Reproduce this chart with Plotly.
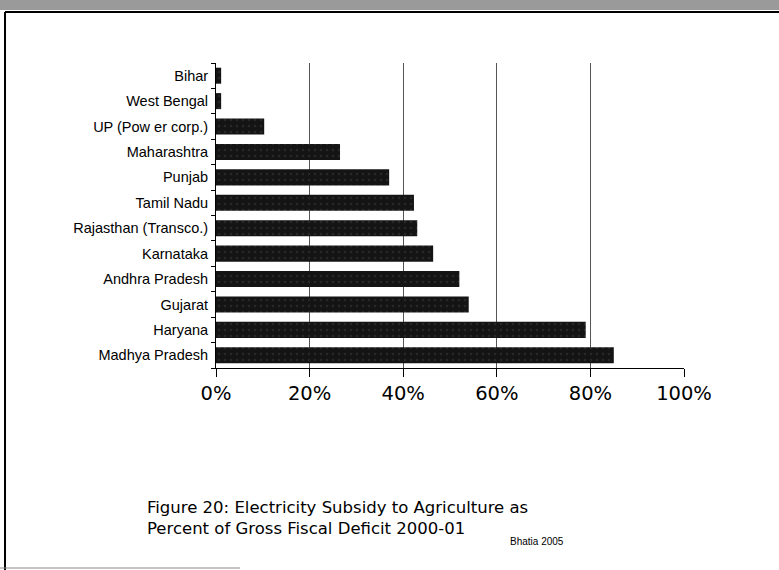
import plotly.graph_objects as go

states = ["Madhya Pradesh", "Haryana", "Gujarat", "Andhra Pradesh", "Karnataka",
          "Rajasthan (Transco.)", "Tamil Nadu", "Punjab", "Maharashtra",
          "UP (Pow er corp.)", "West Bengal", "Bihar"]
subsidy_pct = [85, 79, 54, 52, 46.4, 43, 42.3, 37, 26.5, 10.3, 1.1, 1.1]
x_ticks = [0, 20, 40, 60, 80, 100]
x_tick_labels = ["0%", "20%", "40%", "60%", "80%", "100%"]

W, H = 779, 570
L, R, T, B = 216, 684, 63, 368


def px(x):
    return (x - L) / (R - L)


def py(y):
    return (B - y) / (B - T)


fig = go.Figure(go.Bar(
    y=states, x=subsidy_pct, orientation="h",
    marker=dict(color="#141414", line=dict(width=0),
                pattern=dict(shape=".", fgcolor="#3a3a3a", bgcolor="#141414",
                             size=6, solidity=0.15)),
    width=0.63,
))

fig.update_layout(
    width=W, height=H,
    margin=dict(l=L, r=W - R, t=T, b=H - B),
    paper_bgcolor="white", plot_bgcolor="white",
    showlegend=False,
    font=dict(family="Liberation Sans, Arial", color="black"),
    xaxis=dict(range=[0, 100], tickvals=x_ticks, ticktext=x_tick_labels,
               showgrid=True, gridcolor="#555", gridwidth=1,
               showline=True, linecolor="black", linewidth=1,
               ticks="outside", ticklen=8, tickcolor="black",
               tickfont=dict(family="DejaVu Sans", size=19.5), zeroline=False),
    yaxis=dict(showline=True, linecolor="black", linewidth=1,
               ticks="outside", ticklen=4, tickcolor="black",
               tickson="boundaries", tickfont=dict(size=14.5),
               ticklabelstandoff=4,
               range=[-0.5, 11.5]),
    shapes=[
        dict(type="rect", xref="paper", yref="paper", x0=px(0), x1=px(779),
             y0=py(10), y1=py(0), fillcolor="#9a9a9a", line=dict(width=0), layer="below"),
        dict(type="line", xref="paper", yref="paper", x0=px(5), x1=px(779),
             y0=py(12), y1=py(12), line=dict(color="black", width=2)),
        dict(type="line", xref="paper", yref="paper", x0=px(5), x1=px(5),
             y0=py(12), y1=py(570), line=dict(color="black", width=2)),
        dict(type="line", xref="paper", yref="paper", x0=px(0), x1=px(240),
             y0=py(568), y1=py(568), line=dict(color="#888", width=1)),
    ],
    annotations=[
        dict(text="Figure 20: Electricity Subsidy to Agriculture as<br>Percent of Gross Fiscal Deficit 2000-01",
             xref="paper", yref="paper", x=px(145), y=py(496), xanchor="left", yanchor="top",
             align="left", showarrow=False,
             font=dict(family="DejaVu Sans", size=16.5, color="black")),
        dict(text="Bhatia 2005", xref="paper", yref="paper", x=px(508), y=py(541),
             xanchor="left", yanchor="middle", showarrow=False,
             font=dict(family="Liberation Sans", size=10, color="black")),
    ],
)

fig.write_html("out.html", config={"displayModeBar": False},
               post_script="document.body.style.margin='0';")
